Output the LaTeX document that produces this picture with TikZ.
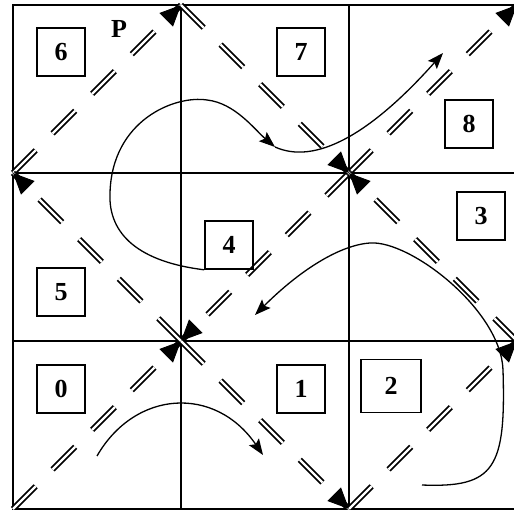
\documentclass[tikz,border=0pt]{standalone}
\usepackage{fontspec}
\setmainfont{Liberation Serif}
\usetikzlibrary{arrows.meta,calc}
\begin{document}
\begin{tikzpicture}[x=1pt,y=-1pt,
  gridline/.style={line width=2pt},
  dbl/.style={double, double distance=2.3pt, line width=1.8pt, dash pattern=on 32pt off 24pt},
  tiphead/.style={-{Triangle[length=21pt,width=19pt]}, line width=1pt},
  curve/.style={line width=1.3pt, -{Stealth[length=16pt,width=12pt,inset=3pt]}},
  numbox/.style={draw, line width=1.6pt, minimum width=48pt, minimum height=48pt, inner sep=0pt,
    font=\bfseries\fontsize{26}{26}\selectfont}]
\clip (0,0) rectangle (514,510);
% grid corners
\foreach \i in {0,...,3}{
  \foreach \j in {0,...,3}{
    \coordinate (g\i\j) at ({13+168*\i},{5+168*\j});
  }
}
% grid
\draw[gridline] (g00) rectangle (g33);
\draw[gridline] (g10) -- (g13);
\draw[gridline] (g20) -- (g23);
\draw[gridline] (g01) -- (g31);
\draw[gridline] (g02) -- (g32);
% diagonal double dashed arrows
\foreach \a/\b in {g03/g12, g21/g12, g21/g30, g01/g10, g10/g21, g32/g21, g12/g01, g12/g23, g23/g32}{
  \draw[dbl] (\a) -- (\b);
  \draw[tiphead] ($(\b)!21pt!(\a)$) -- (\b);
}
% boxes
\node[numbox] (b6) at (61,52) {6};
\node[numbox] (b7) at (301,52) {7};
\node[numbox] (b8) at (469,124) {8};
\node[numbox] (b3) at (481,216) {3};
\node[numbox] (b4) at (229,245) {4};
\node[numbox] (b5) at (61,292) {5};
\node[numbox] (b0) at (61,389) {0};
\node[numbox] (b1) at (301,389) {1};
\node[numbox, minimum width=60pt, minimum height=53pt] (b2) at (391,386) {2};
\node[font=\bfseries\fontsize{26}{26}\selectfont] (p) at (119,29) {P};
% curves
\coordinate (c1s) at (97,456);
\coordinate (c1e) at (263,455);
\draw[curve] (c1s) .. controls (135,390) and (215,385) .. (c1e);
\coordinate (m1) at (275,147);
\coordinate (c2e) at (443,53);
\draw[curve] (b4.south west) .. controls (140,262) and (108,235) .. (110,193)
  .. controls (112,120) and (175,95) .. (207,100)
  .. controls (235,103) and (255,130) .. (m1);
\draw[curve] (m1) .. controls (315,165) and (370,135) .. (c2e);
\coordinate (c3s) at (422,485);
\coordinate (c3e) at (255,315);
\draw[curve] (c3s) .. controls (495,488) and (506,468) .. (503,370)
  .. controls (501,310) and (410,240) .. (370,243)
  .. controls (340,245) and (300,270) .. (c3e);
\end{tikzpicture}
\end{document}
